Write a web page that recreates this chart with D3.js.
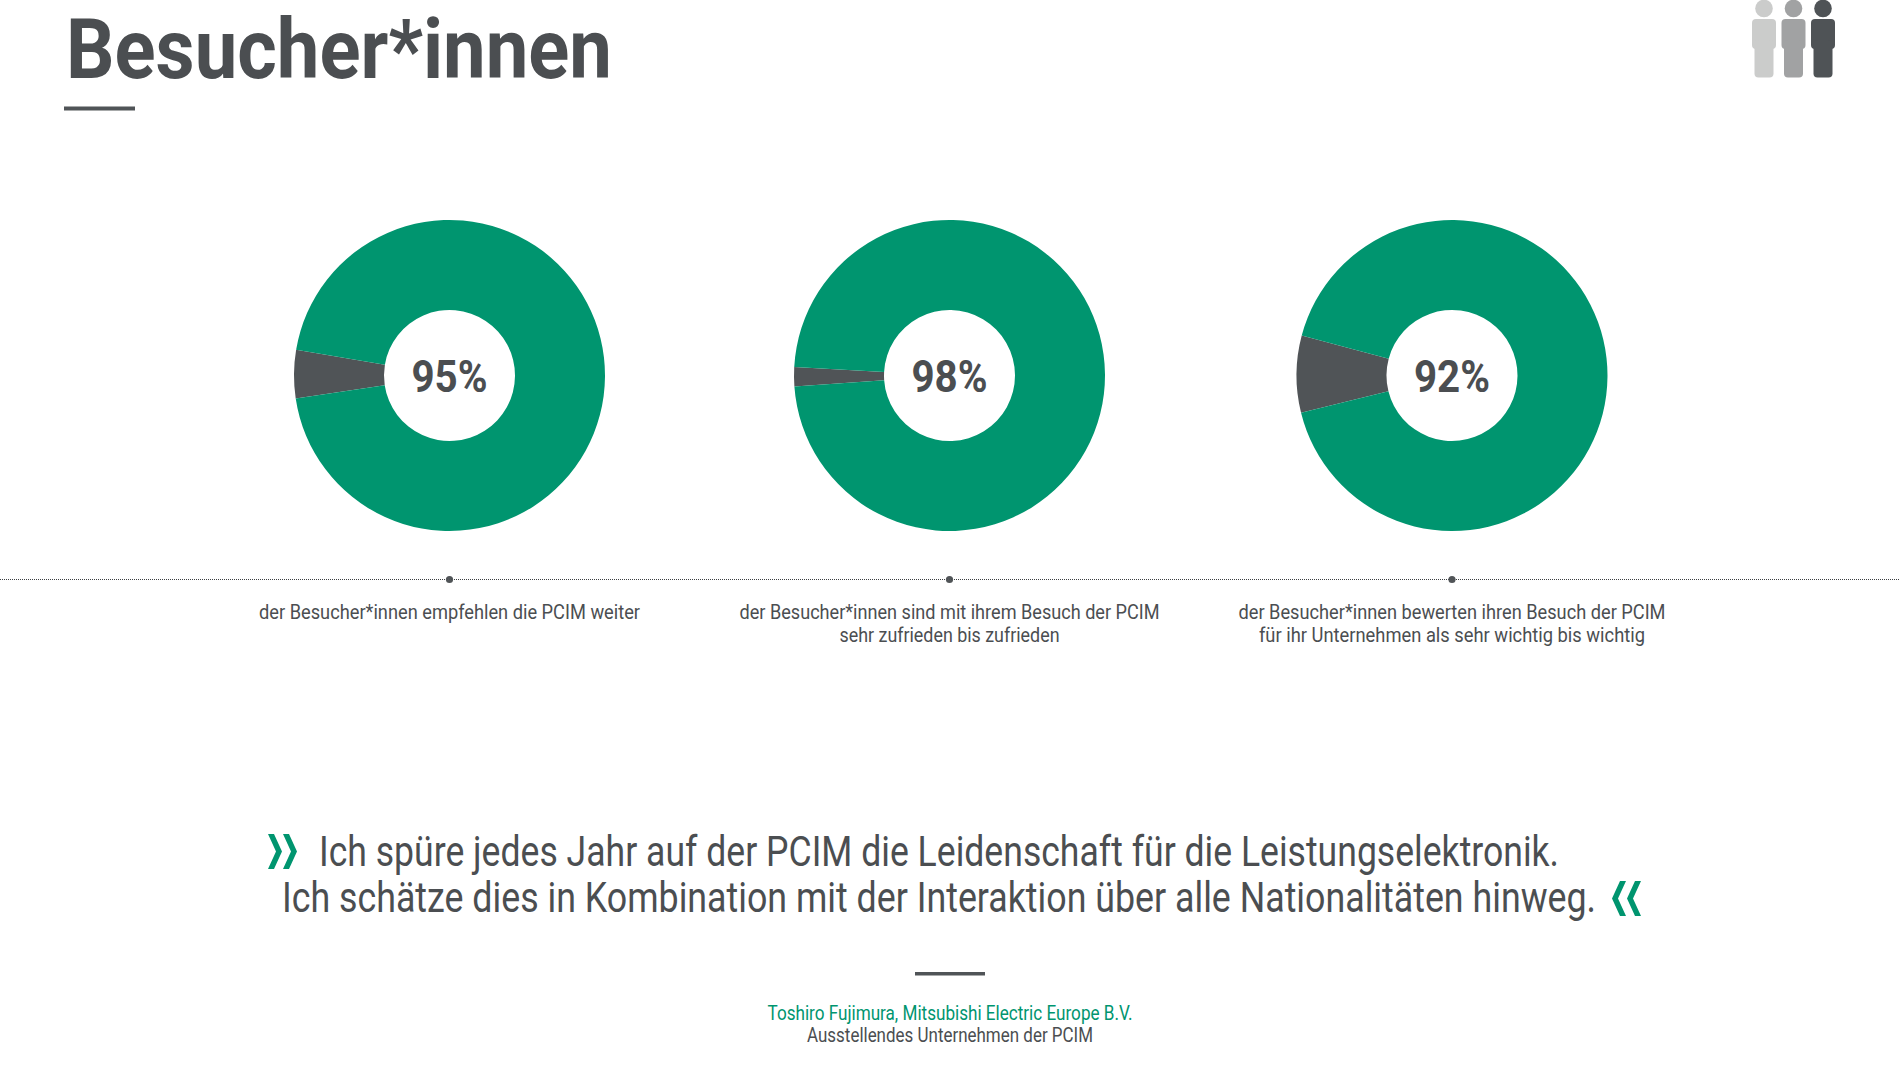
<!DOCTYPE html>
<html><head><meta charset="utf-8">
<script src="https://cdnjs.cloudflare.com/ajax/libs/d3/7.8.5/d3.min.js"></script>
<style>html,body{margin:0;padding:0;background:#fff;overflow:hidden}svg{display:block}text{font-family:"Roboto","Liberation Sans",sans-serif}</style>
</head><body><svg id="c" width="1900" height="1069"></svg>
<script>
const titleText = "Besucher*innen";
const percentages = [95, 98, 92];
const captions = [
  ["der Besucher*innen empfehlen die PCIM weiter"],
  ["der Besucher*innen sind mit ihrem Besuch der PCIM", "sehr zufrieden bis zufrieden"],
  ["der Besucher*innen bewerten ihren Besuch der PCIM", "für ihr Unternehmen als sehr wichtig bis wichtig"]
];
const quoteLines = [
  "Ich spüre jedes Jahr auf der PCIM die Leidenschaft für die Leistungselektronik.",
  "Ich schätze dies in Kombination mit der Interaktion über alle Nationalitäten hinweg."
];
const author = "Toshiro Fujimura, Mitsubishi Electric Europe B.V.";
const authorRole = "Ausstellendes Unternehmen der PCIM";
const personColors = ["#cbcccb", "#a1a2a3", "#4f5356"];
const GREEN = "#00956f", DARK = "#505457", TEXT = "#4b4e51";
const captionWidths = [[381],[420,220],[427,386]];
const wedgeRotationDeg = [0.5, -0.45, 0.5];

const svg = d3.select("#c");
function label(x, y, s, size, width, opts = {}) {
  return svg.append("text").attr("x", x).attr("y", y).text(s)
    .attr("font-size", size).attr("fill", opts.fill || TEXT)
    .attr("font-weight", opts.weight || 400)
    .attr("text-anchor", opts.anchor || "start")
    .attr("textLength", width).attr("lengthAdjust", "spacingAndGlyphs");
}

// header
label(66, 77.5, titleText, 83, 546, {weight: 700});
svg.append("rect").attr("x", 64).attr("y", 106.5).attr("width", 71).attr("height", 4).attr("fill", DARK);

// people icon
const px = d3.scalePoint().domain(personColors).range([1764, 1823]);
personColors.forEach(c => {
  const g = svg.append("g").attr("transform", `translate(${px(c)},0)`).attr("fill", c);
  g.append("circle").attr("cy", 8.5).attr("r", 8.8);
  g.append("rect").attr("x", -12).attr("y", 19).attr("width", 24).attr("height", 30).attr("rx", 4);
  g.append("rect").attr("x", -9.5).attr("y", 40).attr("width", 19).attr("height", 37.5).attr("rx", 4);
});

// dotted baseline
svg.append("line").attr("x1", 0).attr("x2", 1900).attr("y1", 579.5).attr("y2", 579.5)
  .attr("stroke", "#3c3f42").attr("stroke-width", 1).attr("stroke-dasharray", "1 1");

// donuts
const cx = d3.scaleOrdinal().domain(percentages).range([449.5, 949.5, 1452]);
const cy = 375.5, R = 155.5, r = 65.5;
const arc = d3.arc().innerRadius(r).outerRadius(R);
percentages.forEach((p, i) => {
  const rest = 100 - p;
  const start = -Math.PI / 2 - (rest / 100) * Math.PI + wedgeRotationDeg[i] * Math.PI / 180;
  const pie = d3.pie().sort(null).startAngle(start).endAngle(start + 2 * Math.PI);
  const g = svg.append("g").attr("transform", `translate(${cx(p)},${cy})`);
  g.selectAll("path").data(pie([rest, p])).join("path")
    .attr("d", arc).attr("fill", (d, j) => j === 0 ? DARK : GREEN);
  label(cx(p), 392, p + "%", 45, 76, {weight: 700, anchor: "middle"});
  svg.append("circle").attr("cx", cx(p)).attr("cy", 579.5).attr("r", 3.6).attr("fill", DARK);
  captions[i].forEach((t, k) => label(cx(p), 619 + k * 23, t, 20, captionWidths[i][k], {anchor: "middle"}));
});

// quote
label(319, 866, quoteLines[0], 42, 1240);
label(282, 911.5, quoteLines[1], 42, 1314);
function chevrons(x0, y0, dir) {
  [0, 15].forEach(dx => {
    const pts = dir > 0
      ? [[0,0],[6,0],[14,17.5],[6,35],[0,35],[8,17.5]]
      : [[14,0],[8,0],[0,17.5],[8,35],[14,35],[6,17.5]];
    svg.append("polygon").attr("fill", GREEN)
      .attr("points", pts.map(q => [q[0] + x0 + dx, q[1] + y0].join(",")).join(" "));
  });
}
chevrons(268, 834, 1);
chevrons(1612, 881, -1);

// attribution
svg.append("rect").attr("x", 915).attr("y", 972).attr("width", 70).attr("height", 3.5).attr("fill", DARK);
label(950, 1020, author, 20, 365, {anchor: "middle", fill: GREEN});
label(950, 1042, authorRole, 20, 286, {anchor: "middle"});
</script></body></html>
